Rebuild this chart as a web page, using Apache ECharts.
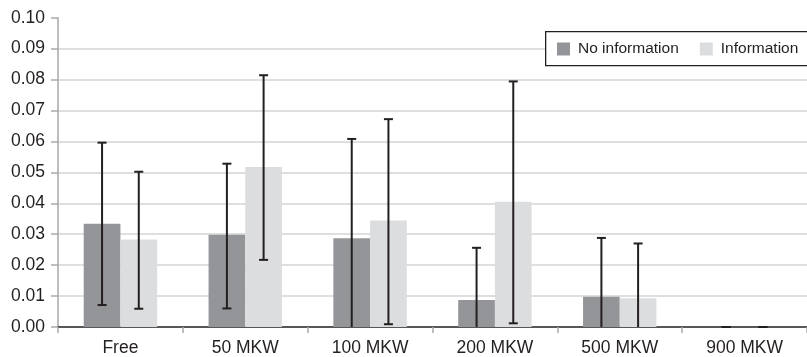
<!DOCTYPE html>
<html>
<head>
<meta charset="utf-8">
<script src="https://cdn.jsdelivr.net/npm/echarts@6/dist/echarts.min.js"></script>
<style>
html,body{margin:0;padding:0;background:#fff;}
#chart{width:807px;height:357px;}
</style>
</head>
<body>
<div id="chart"></div>
<script>
var categories = ['Free', '50 MKW', '100 MKW', '200 MKW', '500 MKW', '900 MKW'];
var noInfo     = [0.0334, 0.0298, 0.0287, 0.0087, 0.0098, 0];
var info       = [0.0283, 0.0517, 0.0344, 0.0405, 0.0093, 0];
var noInfoLow  = [0.0071, 0.0060, -0.0036, -0.0082, -0.0092, 0];
var noInfoHigh = [0.0596, 0.0528, 0.0608, 0.0256, 0.0288, 0];
var infoLow    = [0.0059, 0.0217, 0.0009, 0.0012, -0.0084, 0];
var infoHigh   = [0.0502, 0.0814, 0.0672, 0.0794, 0.0270, 0];
var yTicks = ['0.00','0.01','0.02','0.03','0.04','0.05','0.06','0.07','0.08','0.09','0.10'];

var BAR_FRAC = 0.294;
var TEXT = '#231f20';
var FONT = '"Liberation Sans", Arial, Helvetica, sans-serif';

function errData(lows, highs) {
  return categories.map(function (c, i) { return [i, lows[i], highs[i]]; });
}
function makeErr(side) {
  return function (params, api) {
    var idx = api.value(0), lo = api.value(1), hi = api.value(2);
    var band = api.size([1, 0])[0];
    var cx = api.coord([idx, 0])[0] + side * band * BAR_FRAC / 2;
    var yLo = api.coord([idx, Math.max(lo, 0)])[1];
    var yHi = api.coord([idx, hi])[1];
    var half = 4.5;
    var st = { stroke: TEXT, lineWidth: 2 };
    var kids = [
      { type: 'line', shape: { x1: cx, y1: yLo, x2: cx, y2: yHi }, style: st },
      { type: 'line', shape: { x1: cx - half, y1: yHi, x2: cx + half, y2: yHi }, style: st }
    ];
    if (lo >= 0) {
      kids.push({ type: 'line', shape: { x1: cx - half, y1: yLo, x2: cx + half, y2: yLo }, style: st });
    }
    return { type: 'group', children: kids };
  };
}

var chart = echarts.init(document.getElementById('chart'), null, { renderer: 'canvas' });
chart.setOption({
  animation: false,
  backgroundColor: '#fff',
  grid: { left: 58, top: 17.7, width: 756, height: 310, containLabel: false },
  graphic: [{
    type: 'rect', z: 10, left: 545, top: 31,
    shape: { width: 300, height: 34 },
    style: { fill: '#fff', stroke: TEXT, lineWidth: 1.3 }
  }],
  legend: {
    data: ['No information', 'Information'],
    orient: 'horizontal',
    left: 557, top: 41, width: 250,
    padding: 0,
    itemGap: 21,
    itemWidth: 13, itemHeight: 13,
    icon: 'rect',
    z: 20,
    textStyle: { color: TEXT, fontSize: 15.5, fontFamily: FONT, padding: [0, 0, 0, 3] }
  },
  xAxis: {
    type: 'category',
    data: categories,
    axisLine: { lineStyle: { color: TEXT, width: 1.5 } },
    axisTick: { show: true, length: 6, lineStyle: { color: '#a7a9ac', width: 1.5 } },
    axisLabel: { color: TEXT, fontSize: 17.5, fontFamily: FONT, margin: 12 }
  },
  yAxis: {
    type: 'value',
    min: 0, max: 0.1, interval: 0.01,
    axisLine: { show: true, lineStyle: { color: '#a7a9ac', width: 1.5 } },
    axisTick: { show: true, length: 7, lineStyle: { color: '#a7a9ac', width: 1.5 } },
    axisLabel: {
      color: TEXT, fontSize: 17.5, fontFamily: FONT, margin: 13,
      formatter: function (v) { return yTicks[Math.round(v * 100)]; }
    },
    splitLine: { show: true, showMaxLine: false, showMinLine: false, lineStyle: { color: '#d4d4d4', width: 1.5 } }
  },
  series: [
    { name: 'No information', type: 'bar', data: noInfo, barWidth: (BAR_FRAC * 100) + '%', barGap: '0%',
      itemStyle: { color: '#939598' } },
    { name: 'Information', type: 'bar', data: info, barWidth: (BAR_FRAC * 100) + '%', barGap: '0%',
      itemStyle: { color: '#dcdddf' } },
    { type: 'custom', data: errData(noInfoLow, noInfoHigh), renderItem: makeErr(-1), z: 5,
      encode: { x: 0, y: [1, 2] } },
    { type: 'custom', data: errData(infoLow, infoHigh), renderItem: makeErr(1), z: 5,
      encode: { x: 0, y: [1, 2] } }
  ]
});
</script>
</body>
</html>
